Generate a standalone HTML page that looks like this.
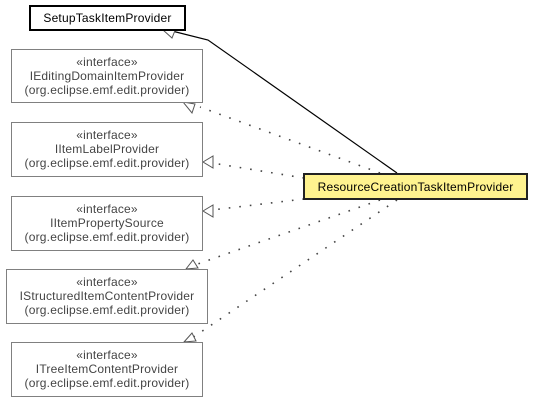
<!DOCTYPE html>
<html><head><style>
body{margin:0;width:533px;height:401px;background:#fff;position:relative;overflow:hidden;font-family:"Liberation Sans",sans-serif;font-size:12px}
.b{position:absolute;box-sizing:border-box;border:1px solid #808080;background:#fff;color:#444;text-align:center;line-height:14px;padding-top:5px;letter-spacing:0.2px}
svg{position:absolute;left:0;top:0}
</style></head><body>
<svg width="533" height="401">
<g fill="none" stroke="#000" stroke-width="1.2">
<polyline points="397,173 208,40 172,31"/>
</g>
<polygon points="163,30 176,28 172,38" fill="#fff" stroke="#555"/>
<g stroke="#444" stroke-width="1.6" stroke-dasharray="1.6,9" fill="none">
<line x1="380" y1="173" x2="200" y2="107"/>
<line x1="304" y1="178" x2="212" y2="163"/>
<line x1="304" y1="199" x2="212" y2="210"/>
<line x1="380" y1="200" x2="192" y2="266"/>
<line x1="397" y1="200" x2="192" y2="338"/>
</g>
<g fill="#fff" stroke="#555">
<polygon points="195,104 183,102 192,113"/>
<polygon points="203,162 213,156 213,168"/>
<polygon points="203,211 213,205 213,217"/>
<polygon points="186,269 193,260 198,268"/>
<polygon points="184,342 192,333 196,341"/>
</g>
</svg>
<div class="b" style="left:29px;top:5px;width:157px;height:26px;border:2px solid #000;color:#000;padding-top:4px">SetupTaskItemProvider</div>
<div class="b" style="left:11px;top:49px;width:192px;height:54px">«interface»<br>IEditingDomainItemProvider<br>(org.eclipse.emf.edit.provider)</div>
<div class="b" style="left:11px;top:122px;width:192px;height:55px">«interface»<br>IItemLabelProvider<br>(org.eclipse.emf.edit.provider)</div>
<div class="b" style="left:11px;top:196px;width:192px;height:55px">«interface»<br>IItemPropertySource<br>(org.eclipse.emf.edit.provider)</div>
<div class="b" style="left:6px;top:269px;width:202px;height:55px">«interface»<br>IStructuredItemContentProvider<br>(org.eclipse.emf.edit.provider)</div>
<div class="b" style="left:11px;top:342px;width:192px;height:55px">«interface»<br>ITreeItemContentProvider<br>(org.eclipse.emf.edit.provider)</div>
<div class="b" style="left:303px;top:173px;width:225px;height:27px;border:2px solid #222;background:#fff38f;color:#000;padding-top:5px">ResourceCreationTaskItemProvider</div>
</body></html>
